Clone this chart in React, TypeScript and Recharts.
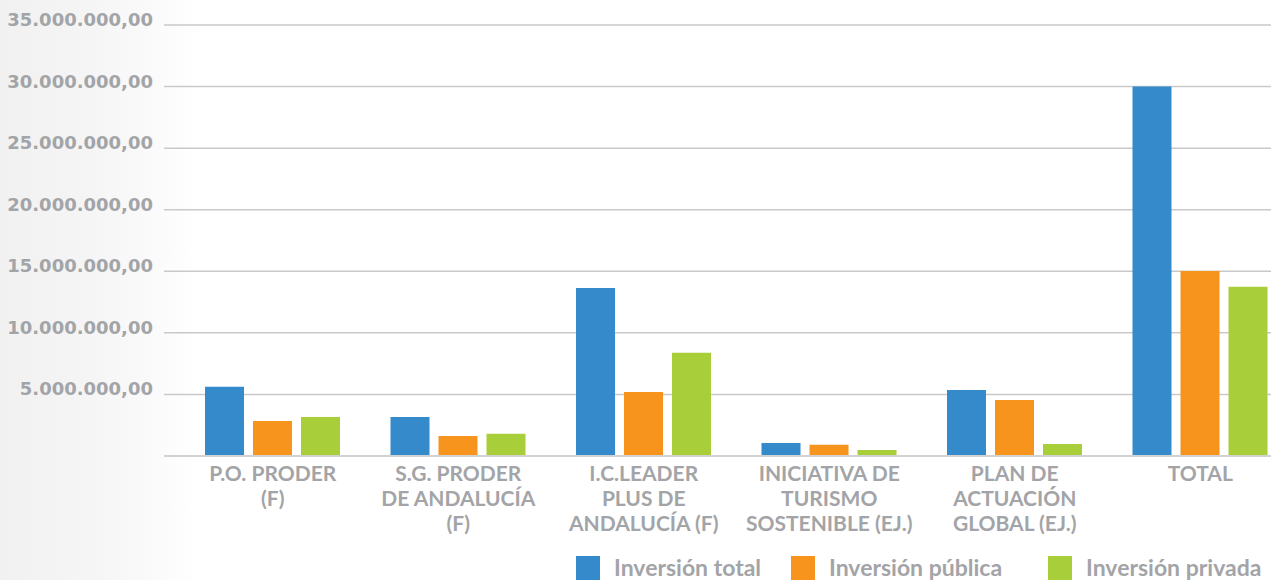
import React from "react";
import { BarChart, Bar, XAxis, YAxis, CartesianGrid } from "recharts";

const categories: string[][] = [
  ["P.O. PRODER", "(F)"],
  ["S.G. PRODER", "DE ANDALUCÍA", "(F)"],
  ["I.C.LEADER", "PLUS DE", "ANDALUCÍA (F)"],
  ["INICIATIVA DE", "TURISMO", "SOSTENIBLE (EJ.)"],
  ["PLAN DE", "ACTUACIÓN", "GLOBAL (EJ.)"],
  ["TOTAL"],
];

const inversionTotal = [5630000, 3170000, 13640000, 1060000, 5360000, 30000000];
const inversionPublica = [2840000, 1620000, 5200000, 920000, 4550000, 15020000];
const inversionPrivada = [3170000, 1810000, 8390000, 490000, 970000, 13750000];

const seriesNames = ["Inversión total", "Inversión pública", "Inversión privada"];
const seriesColors = ["#348ACB", "#F7941E", "#A8CE3A"];
const yTicks = [0, 5000000, 10000000, 15000000, 20000000, 25000000, 30000000, 35000000];

const data = categories.map((lines, i) => ({
  name: lines.join(" "),
  idx: i,
  total: inversionTotal[i],
  publica: inversionPublica[i],
  privada: inversionPrivada[i],
}));

const TEXT_GRAY = "#a3a4a7";

const fmt = (v: number) => {
  const s = Math.round(v).toString().replace(/\B(?=(\d{3})+(?!\d))/g, ".");
  return s + ",00";
};

const YTick = (props: any) => {
  const { x, y, payload } = props;
  if (!payload || payload.value === 0) return null;
  return (
    <text
      x={x}
      y={y + 1}
      textAnchor="end"
      fill={TEXT_GRAY}
      fontFamily="'DejaVu Sans', sans-serif"
      fontWeight={700}
      fontSize={18}
    >
      {fmt(payload.value)}
    </text>
  );
};

const XTick = (props: any) => {
  const { x, y, index } = props;
  const lines = categories[index] || [];
  return (
    <text
      x={x}
      y={y}
      textAnchor="middle"
      fill={TEXT_GRAY}
      fontFamily="Lato, sans-serif"
      fontWeight={700}
      fontSize={21}
    >
      {lines.map((l, i) => (
        <tspan key={i} x={x} y={y + 17 + i * 25}>
          {l}
        </tspan>
      ))}
    </text>
  );
};

const legendRectX = [576, 791, 1048];

export default function App() {
  return (
    <div
      style={{
        position: "absolute",
        left: 0,
        top: 0,
        width: 1279,
        height: 580,
        overflow: "hidden",
        background:
          "linear-gradient(to right, #f1f1f1 0px, #f5f5f5 90px, #fafafa 150px, #ffffff 200px)",
      }}
    >
      <div style={{ position: "absolute", left: 0, top: 0 }}>
        <BarChart
          width={1271}
          height={580}
          data={data}
          margin={{ top: 25, right: -22, bottom: 0, left: 0 }}
          barSize={39}
          barGap={9}
        >
          <CartesianGrid vertical={false} stroke="#c9c9c9" strokeWidth={1.5} />
          <XAxis
            dataKey="name"
            height={124}
            tickLine={false}
            axisLine={{ stroke: "#d2d2d2", strokeWidth: 2 }}
            padding={{ left: 16, right: 0 }}
            tick={<XTick />}
            interval={0}
          />
          <YAxis
            width={164}
            domain={[0, 35000000]}
            ticks={yTicks}
            axisLine={false}
            tickLine={false}
            tickMargin={5}
            tick={<YTick />}
            interval={0}
          />
          <Bar dataKey="total" name={seriesNames[0]} fill={seriesColors[0]} isAnimationActive={false} />
          <Bar dataKey="publica" name={seriesNames[1]} fill={seriesColors[1]} isAnimationActive={false} />
          <Bar dataKey="privada" name={seriesNames[2]} fill={seriesColors[2]} isAnimationActive={false} />
        </BarChart>
      </div>
      <svg
        width={1279}
        height={40}
        style={{ position: "absolute", left: 0, top: 540 }}
      >
        {seriesNames.map((n, i) => (
          <g key={n}>
            <rect x={legendRectX[i]} y={16} width={24} height={24} fill={seriesColors[i]} />
            <text
              x={legendRectX[i] + 38}
              y={35.5}
              fill={TEXT_GRAY}
              fontFamily="Lato, sans-serif"
              fontWeight={700}
              fontSize={23}
            >
              {n}
            </text>
          </g>
        ))}
      </svg>
    </div>
  );
}
